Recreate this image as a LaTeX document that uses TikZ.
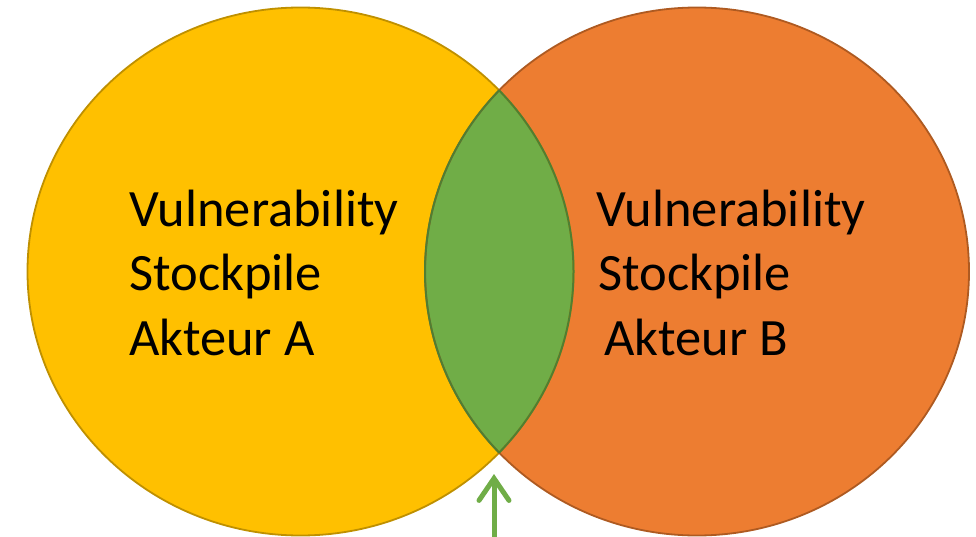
\documentclass[tikz,border=0pt]{standalone}
\usepackage{fontspec}
\setmainfont{Carlito}
\usetikzlibrary{arrows.meta}
\definecolor{akteurA}{HTML}{FFC000}
\definecolor{akteurAline}{HTML}{BF9000}
\definecolor{akteurB}{HTML}{ED7D31}
\definecolor{akteurBline}{HTML}{AE5A21}
\definecolor{overlap}{HTML}{70AD47}
\definecolor{overlapline}{HTML}{507E32}
\tikzset{
  stocktext/.style={anchor=base west, inner sep=0pt, font=\fontsize{52.5}{64}\selectfont},
  overlaparrow/.style={draw=overlap, line width=5pt, line cap=round,
    -{Straight Barb[length=22pt, width=30pt, line cap=round]}}
}
\begin{document}
\begin{tikzpicture}[x=1pt, y=-1pt]
    \useasboundingbox (0, 0) rectangle (976, 537) ;
    \coordinate (cA) at (300.5, 271.5) ;
    \coordinate (cB) at (697, 271.5) ;
    \fill[akteurA] (cA) ellipse [x radius=273pt, y radius=264pt] ;
    \fill[akteurB] (cB) ellipse [x radius=272pt, y radius=264pt] ;
    \begin{scope}
      \clip (cA) ellipse [x radius=273pt, y radius=264pt] ;
      \fill[overlap] (cB) ellipse [x radius=272pt, y radius=264pt] ;
    \end{scope}
    \draw[akteurAline, line width=1.8pt] (cA) ellipse [x radius=273pt, y radius=264pt] ;
    \draw[akteurBline, line width=1.8pt] (cB) ellipse [x radius=272pt, y radius=264pt] ;
    \begin{scope}
      \clip (cA) ellipse [x radius=273pt, y radius=264pt] ;
      \draw[overlapline, line width=2pt] (cB) ellipse [x radius=272pt, y radius=264pt] ;
    \end{scope}
    \begin{scope}
      \clip (cB) ellipse [x radius=272pt, y radius=264pt] ;
      \draw[overlapline, line width=2pt] (cA) ellipse [x radius=273pt, y radius=264pt] ;
    \end{scope}
    \node[stocktext] (vulnA) at (129, 227) {Vulnerability} ;
    \node[stocktext] (stockA) at (129, 290) {Stockpile} ;
    \node[stocktext] (akteurA) at (129, 355) {Akteur A} ;
    \node[stocktext] (vulnB) at (596, 227) {Vulnerability} ;
    \node[stocktext] (stockB) at (598, 290) {Stockpile} ;
    \node[stocktext] (akteurB) at (604, 355) {Akteur B} ;
    \coordinate (tail) at (494, 550) ;
    \coordinate (tip) at (494, 474) ;
    \draw[overlaparrow] (tail) -- (tip) ;
  \end{tikzpicture}
\end{document}
